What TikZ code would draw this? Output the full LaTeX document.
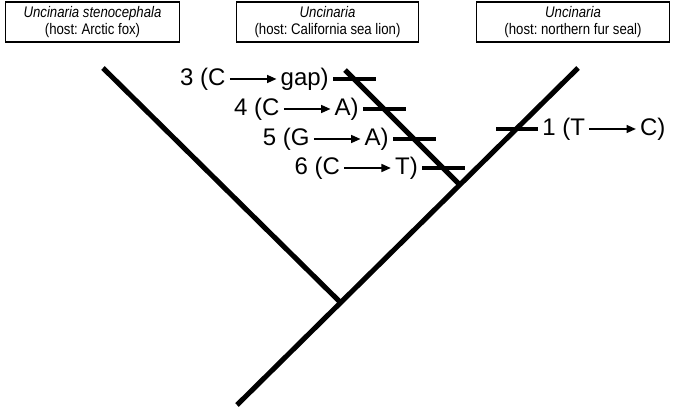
\documentclass[tikz,border=0pt]{standalone}
\usepackage{fontspec}
\setmainfont{Liberation Sans}
\newfontfamily\hostfont[FakeStretch=0.86]{Liberation Sans}
\usetikzlibrary{positioning,arrows.meta}
\frenchspacing

\begin{document}
\begin{tikzpicture}[x=0.75pt,y=-0.75pt,
    hostbox/.style={draw, line width=0.8pt, minimum height=30pt,
        align=center, inner sep=2pt, font=\hostfont\fontsize{11.5}{13}\selectfont},
    branch/.style={line width=3.8pt},
    tick/.style={line width=3.2pt},
    mut/.style={inner sep=2pt, font=\fontsize{18}{21}\selectfont},
    mutarrow/.style={line width=1pt, -{Triangle[length=7pt,width=6pt]},
        shorten <=1pt, shorten >=1pt}]

    \useasboundingbox (0,0) rectangle (673,409);

    % --------------------------
    % host boxes
    % --------------------------
    \node[hostbox, minimum width=131pt] (fox)  at (92.5,22) {\textit{Uncinaria stenocephala}\\(host: Arctic fox)};
    \node[hostbox, minimum width=136pt] (lion) at (327.5,22) {\textit{Uncinaria}\\(host: California sea lion)};
    \node[hostbox, minimum width=145pt] (seal) at (573,22) {\textit{Uncinaria}\\(host: northern fur seal)};

    % --------------------------
    % tree
    % --------------------------
    \coordinate (root)    at (237,405);
    \coordinate (split1)  at (340,302);
    \coordinate (split2)  at (460,185);
    \coordinate (tipfox)  at (103,68);
    \coordinate (tiplion) at (345,70);
    \coordinate (tipseal) at (578,68);

    \draw[branch] (root) -- (tipseal);
    \draw[branch] (split1) -- (tipfox);
    \draw[branch] (split2) -- (tiplion);

    % --------------------------
    % substitutions on the sea lion branch
    % --------------------------
    \foreach \n/\y/\old/\new in {3/79/C/gap, 4/109/C/A, 5/139/G/A, 6/168/C/T} {
        \coordinate (a\n) at ({254+\y},\y);
        \coordinate (b\n) at ({297+\y},\y);
        \draw[tick] (a\n) -- (b\n);
        \node[mut, left=1pt of a\n] (to\n) {\new)};
        \node[mut, left=37pt of to\n] (from\n) {\n\ (\old};
        \draw[mutarrow] (from\n) -- (to\n);
    }

    % --------------------------
    % substitution on the fur seal branch
    % --------------------------
    \coordinate (a1) at (496,129);
    \coordinate (b1) at (538,129);
    \draw[tick] (a1) -- (b1);
    \node[mut, right=1pt of b1] (from1) {1 (T};
    \node[mut, right=37pt of from1] (to1) {C)};
    \draw[mutarrow] (from1) -- (to1);

\end{tikzpicture}
\end{document}
